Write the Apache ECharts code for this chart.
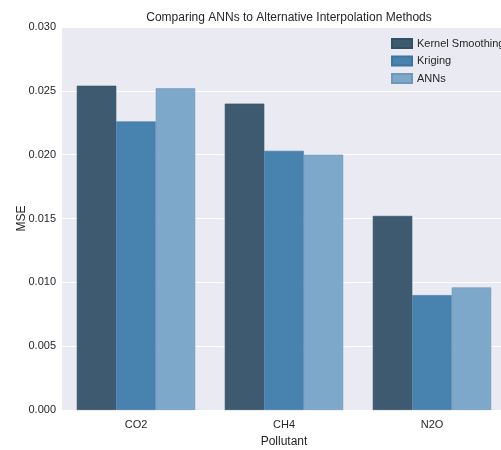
<!DOCTYPE html>
<html>
<head>
<meta charset="utf-8">
<script src="https://cdn.jsdelivr.net/npm/echarts@6/dist/echarts.min.js"></script>
<style>
  html, body { margin: 0; padding: 0; background: #fff; overflow: hidden; }
  #chart { width: 512px; height: 450px; }
</style>
</head>
<body>
<div id="chart"></div>
<script>
var pollutants = ['CO2', 'CH4', 'N2O'];
var kernelSmoothing = [0.0254, 0.0240, 0.0152];
var kriging = [0.0226, 0.0203, 0.0090];
var anns = [0.0252, 0.0200, 0.0096];

var font = '"Liberation Sans", Arial, sans-serif';

var chart = echarts.init(document.getElementById('chart'));
var option = {
    backgroundColor: '#ffffff',
    animation: false,
    title: {
        text: 'Comparing ANNs to Alternative Interpolation Methods',
        left: 284,
        textAlign: 'center',
        top: 7,
        textStyle: { fontFamily: font, fontSize: 12, fontWeight: 'normal', color: '#262626' }
    },
    legend: {
        orient: 'vertical',
        left: 386,
        top: 33,
        itemWidth: 20,
        itemHeight: 9,
        itemGap: 6.5,
        icon: 'rect',
        textStyle: { fontFamily: font, fontSize: 11, color: '#262626' },
        data: ['Kernel Smoothing', 'Kriging', 'ANNs']
    },
    grid: {
        left: 62,
        top: 27,
        width: 444,
        height: 383,
        outerBoundsMode: 'none',
        show: true,
        backgroundColor: '#eaeaf2',
        borderWidth: 0
    },
    xAxis: {
        type: 'category',
        data: pollutants,
        name: 'Pollutant',
        nameLocation: 'middle',
        nameGap: 26,
        nameMoveOverlap: false,
        nameTextStyle: { fontFamily: font, fontSize: 12, color: '#262626' },
        axisLine: { show: false },
        axisTick: { show: false },
        axisLabel: { fontFamily: font, fontSize: 11, color: '#262626', margin: 9 },
        splitLine: { show: false }
    },
    yAxis: {
        type: 'value',
        min: 0,
        max: 0.03,
        interval: 0.005,
        name: 'MSE',
        nameLocation: 'middle',
        nameGap: 34,
        nameMoveOverlap: false,
        nameTextStyle: { fontFamily: font, fontSize: 12, color: '#262626' },
        axisLine: { show: false },
        axisTick: { show: false },
        axisLabel: {
            fontFamily: font, fontSize: 11, color: '#262626', margin: 6,
            formatter: function (v) { return v.toFixed(3); }
        },
        splitLine: { lineStyle: { color: '#ffffff', width: 1.2 } }
    },
    series: [
        {
            name: 'Kernel Smoothing', type: 'bar', data: kernelSmoothing,
            barGap: '0%', barCategoryGap: '20%',
            itemStyle: { color: '#3d5a70', borderColor: '#34505f', borderWidth: 0.6 }
        },
        {
            name: 'Kriging', type: 'bar', data: kriging,
            itemStyle: { color: '#4883b0', borderColor: '#3f73a0', borderWidth: 0.6 }
        },
        {
            name: 'ANNs', type: 'bar', data: anns,
            itemStyle: { color: '#7ea8c9', borderColor: '#6f97b8', borderWidth: 0.6 }
        }
    ]
};
chart.setOption(option);
</script>
</body>
</html>
